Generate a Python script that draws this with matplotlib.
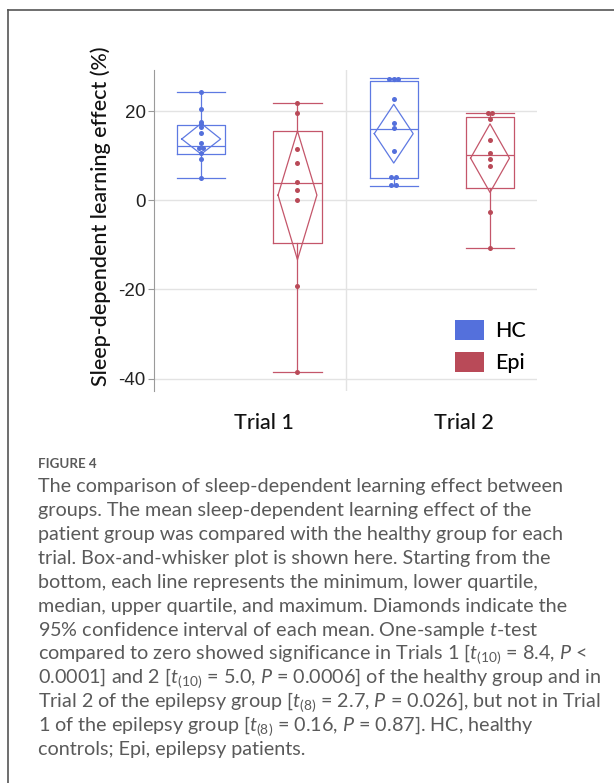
import numpy as np
import matplotlib.pyplot as plt
from matplotlib.patches import Patch
from matplotlib.lines import Line2D
import matplotlib.transforms as mtransforms

plt.rcParams['mathtext.fontset'] = 'custom'
plt.rcParams['mathtext.rm'] = 'Lato'
plt.rcParams['mathtext.it'] = 'Lato:style=italic:weight=normal'

# data
trials = ["Trial 1", "Trial 2"]
groups = ["HC", "Epi"]

hc_t1 = [24.3, 20.6, 17.7, 17.2, 16.5, 15.1, 12.8, 11.8, 11.8, 10.6, 9.2, 5.1]
epi_t1 = [21.9, 19.7, 11.6, 8.5, 4.1, 2.3, 0.15, -19.3, -38.5]
hc_t2 = [27.3, 27.3, 27.3, 22.8, 17.4, 16.2, 11.0, 5.3, 5.3, 3.4, 3.4]
epi_t2 = [19.7, 19.7, 18.4, 13.6, 10.6, 9.4, 7.7, -2.5, -10.7]

# box stats: min, q1, median, q3, max (as drawn)
box_min = [5.1, -38.5, 3.3, -10.7]
box_q1 = [10.5, -9.55, 5.0, 2.7]
box_med = [12.2, 3.9, 16.0, 10.3]
box_q3 = [16.9, 15.5, 26.8, 18.8]
box_max = [24.3, 21.9, 27.6, 19.6]

# means and 95% CI (diamonds)
means = [13.8, 1.2, 15.0, 9.5]
ci_lo = [10.4, -13.3, 8.4, 1.8]
ci_hi = [17.3, 15.6, 21.6, 17.2]

hc_color = "#5470DC"
epi_color = "#B94A58"
hc_line = "#5E79E2"
epi_line = "#C4566A"

fig = plt.figure(figsize=(6.14, 7.83), dpi=100)
W, H = 614, 783
ax = fig.add_axes([154 / W, 1 - 391 / H, 383 / W, 321 / H])

series = [hc_t1, epi_t1, hc_t2, epi_t2]
positions = [0.75, 1.25, 1.75, 2.25]
line_cols = [hc_line, epi_line, hc_line, epi_line]
dot_cols = [hc_color, epi_color, hc_color, epi_color]

stats = []
for i in range(4):
    stats.append({"whislo": box_min[i], "q1": box_q1[i], "med": box_med[i],
                  "q3": box_q3[i], "whishi": box_max[i], "fliers": []})

bp = ax.bxp(stats, positions=positions, widths=0.25, capwidths=0.25,
            showfliers=False, patch_artist=False, manage_ticks=False)
for i in range(4):
    c = line_cols[i]
    bp["boxes"][i].set(color=c, lw=0.9)
    bp["medians"][i].set(color=c, lw=0.9)
    for w in bp["whiskers"][2 * i:2 * i + 2]:
        w.set(color=c, lw=0.9)
    for cp in bp["caps"][2 * i:2 * i + 2]:
        cp.set(color=c, lw=0.9)

# diamonds
dw = 0.101
for i in range(4):
    x = positions[i]
    ax.plot([x - dw, x, x + dw, x, x - dw],
            [means[i], ci_hi[i], means[i], ci_lo[i], means[i]],
            color=line_cols[i], lw=0.9, zorder=3)

# points, tied values spread side by side
for i, vals in enumerate(series):
    vals = np.array(vals)
    xs = np.full(len(vals), positions[i], dtype=float)
    for v in np.unique(vals):
        idx = np.where(vals == v)[0]
        k = len(idx)
        for j, n in enumerate(idx):
            xs[n] += (j - (k - 1) / 2) * 0.024
    ax.plot(xs, vals, "o", color=dot_cols[i], ms=3.6, mew=0, zorder=4)

ax.set_xlim(0.505, 2.494)
ax.set_ylim(-42.8, 29.3)
ax.set_yticks([20, 0, -20, -40])
ax.set_yticklabels(["20", "0", "-20", "-40"], family="Liberation Sans",
                   fontsize=13.5, color="#222222")
ax.grid(axis="y", color="#e3e3e3", lw=1.0)
ax.axvline(1.5, color="#e3e3e3", lw=1.0, zorder=0)
ax.set_axisbelow(True)
for s in ["top", "right", "bottom"]:
    ax.spines[s].set_visible(False)
ax.spines["left"].set_color("#9a9a9a")
ax.tick_params(axis="y", length=4, color="#9a9a9a", pad=2)
ax.tick_params(axis="x", length=0, pad=16)

ax.set_xticks([1, 2])
ax.set_xticklabels(trials, family="Lato", fontsize=15.5, weight="medium",
                   color="#111111")
shifts = [15, 22]
for lab, sh in zip(ax.get_xticklabels(), shifts):
    lab.set_transform(lab.get_transform() +
                      mtransforms.ScaledTranslation(sh / 100, 0, fig.dpi_scale_trans))

fig.text(101 / W, 1 - 216 / H, "Sleep-dependent learning effect (%)",
         rotation=90, ha="center", va="center", family="Lato",
         fontsize=15.5, weight="medium", color="#111111")

handles = [Patch(facecolor=hc_color, edgecolor="none"),
           Patch(facecolor=epi_color, edgecolor="none")]
ax.legend(handles, groups, loc="upper left",
          bbox_to_anchor=(455 / W, 1 - 320 / H), bbox_transform=fig.transFigure,
          frameon=False, prop={"family": "Lato", "size": 15.5, "weight": "medium"},
          handlelength=1.36, handleheight=1.05, handletextpad=0.5,
          labelspacing=0.5, borderpad=0, borderaxespad=0)

# frame lines
fig.add_artist(Line2D([8 / W, 8 / W], [0, 1 - 10 / H], color="#555555", lw=1.2,
                      transform=fig.transFigure))
fig.add_artist(Line2D([8 / W, 1], [1 - 10 / H, 1 - 10 / H], color="#555555", lw=1.2,
                      transform=fig.transFigure))

# caption
fig.text(38 / W, 1 - 464 / H, "FIGURE 4", family="Lato", weight="bold",
         fontsize=9.6, color="#5a5a5a", va="center")
caption = [
    "The comparison of sleep-dependent learning effect between",
    "groups. The mean sleep-dependent learning effect of the",
    "patient group was compared with the healthy group for each",
    "trial. Box-and-whisker plot is shown here. Starting from the",
    "bottom, each line represents the minimum, lower quartile,",
    "median, upper quartile, and maximum. Diamonds indicate the",
    "95% confidence interval of each mean. One-sample $t$-test",
    r"compared to zero showed significance in Trials 1 [$t_{(10)}$ = 8.4, $P$ <",
    r"0.0001] and 2 [$t_{(10)}$ = 5.0, $P$ = 0.0006] of the healthy group and in",
    r"Trial 2 of the epilepsy group [$t_{(8)}$ = 2.7, $P$ = 0.026], but not in Trial",
    r"1 of the epilepsy group [$t_{(8)}$ = 0.16, $P$ = 0.87]. HC, healthy",
    "controls; Epi, epilepsy patients.",
]
for k, line in enumerate(caption):
    fig.text(38 / W, 1 - (487 + k * 23.9) / H, line, family="Lato",
             fontsize=14.2, color="#5a5a5a", va="center")

fig.savefig("out.png", dpi=100)
